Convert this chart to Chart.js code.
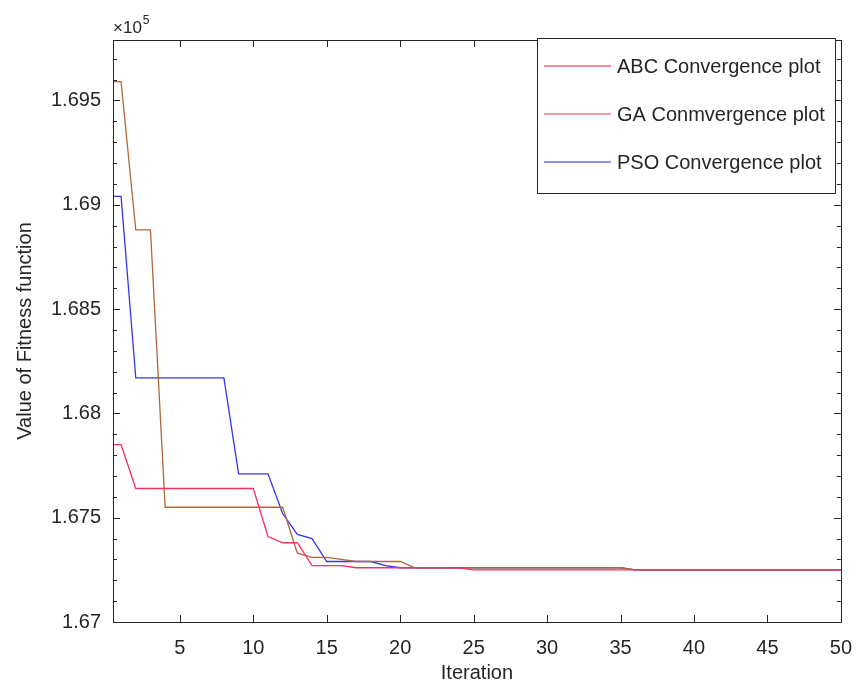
<!DOCTYPE html>
<html><head><meta charset="utf-8">
<script src="https://cdn.jsdelivr.net/npm/chart.js@4/dist/chart.umd.min.js"></script>
<style>html,body{margin:0;padding:0;background:#fff}#wrap{width:866px;height:691px}</style>
</head><body><div id="wrap"><canvas id="c" width="866" height="691"></canvas></div>
<script>
// ---- data (values in units of 10^5) ----
const iterations = [1,2,3,4,5,6,7,8,9,10,11,12,13,14,15,16,17,18,19,20,21,22,23,24,25,26,27,28,29,30,31,32,33,34,35,36,37,38,39,40,41,42,43,44,45,46,47,48,49,50];
const abcValues = [1.6785,1.6764,1.6764,1.6764,1.6764,1.6764,1.6764,1.6764,1.6764,1.6764,1.6741,1.6738,1.6738,1.6727,1.6727,1.6727,1.6726,1.6726,1.6726,1.6726,1.6726,1.6726,1.6726,1.6726,1.6725,1.6725,1.6725,1.6725,1.6725,1.6725,1.6725,1.6725,1.6725,1.6725,1.6725,1.6725,1.6725,1.6725,1.6725,1.6725,1.6725,1.6725,1.6725,1.6725,1.6725,1.6725,1.6725,1.6725,1.6725,1.6725];
const gaValues = [1.6959,1.6888,1.6888,1.6755,1.6755,1.6755,1.6755,1.6755,1.6755,1.6755,1.6755,1.6755,1.6733,1.6731,1.6731,1.6730,1.6729,1.6729,1.6729,1.6729,1.6726,1.6726,1.6726,1.6726,1.6726,1.6726,1.6726,1.6726,1.6726,1.6726,1.6726,1.6726,1.6726,1.6726,1.6726,1.6725,1.6725,1.6725,1.6725,1.6725,1.6725,1.6725,1.6725,1.6725,1.6725,1.6725,1.6725,1.6725,1.6725,1.6725];
const psoValues = [1.6904,1.6817,1.6817,1.6817,1.6817,1.6817,1.6817,1.6817,1.6771,1.6771,1.6771,1.6752,1.6742,1.6740,1.6729,1.6729,1.6729,1.6729,1.6727,1.6726,1.6726,1.6726,1.6726,1.6726,1.6726,1.6726,1.6726,1.6726,1.6726,1.6726,1.6726,1.6726,1.6726,1.6726,1.6726,1.6725,1.6725,1.6725,1.6725,1.6725,1.6725,1.6725,1.6725,1.6725,1.6725,1.6725,1.6725,1.6725,1.6725,1.6725];
const seriesNames = ['ABC Convergence plot','GA Conmvergence plot','PSO Convergence plot'];
const xTicks = [5,10,15,20,25,30,35,40,45,50];
const yTicks = [1.67,1.675,1.68,1.685,1.69,1.695];

// ---- styling ----
const X_MIN = 0.45, X_MAX = 50, Y_MIN = 1.67, Y_MAX = 1.6979;
const lineColors = ['#f5325f', '#b0683a', '#3434f2'];
const legendColors = ['#ff5c7c', '#f07c86', '#6a6af5'];
const FONT = '"Liberation Sans", Arial, sans-serif';
const TXT = '#262626';

function toPoints(vals){
  const pts = [{x: X_MIN, y: vals[0]}];
  iterations.forEach((it,i)=>pts.push({x: it, y: vals[i]}));
  return pts;
}

const framePlugin = {
  id: 'frame',
  afterDatasetsDraw(chart){
    const ctx = chart.ctx, a = chart.chartArea;
    const xs = chart.scales.x, ys = chart.scales.y;
    ctx.save();
    ctx.strokeStyle = TXT; ctx.lineWidth = 1;
    ctx.strokeRect(Math.round(a.left)+0.5, Math.round(a.top)+0.5, Math.round(a.right-a.left), Math.round(a.bottom-a.top));
    ctx.beginPath();
    xTicks.forEach(v=>{
      const px = Math.round(xs.getPixelForValue(v))+0.5;
      ctx.moveTo(px, a.bottom); ctx.lineTo(px, a.bottom-7);
      ctx.moveTo(px, a.top); ctx.lineTo(px, a.top+7);
    });
    for(let k=0;k<=27;k++){
      const v = Y_MIN + k*0.001;
      const py = Math.round(ys.getPixelForValue(v))+0.5;
      const len = (k%5===0)?7:4;
      ctx.moveTo(a.left, py); ctx.lineTo(a.left+len, py);
      ctx.moveTo(a.right, py); ctx.lineTo(a.right-len, py);
    }
    ctx.stroke();

    // exponent label
    ctx.fillStyle = TXT;
    ctx.textBaseline = 'alphabetic'; ctx.textAlign = 'left';
    ctx.font = '17px ' + FONT;
    ctx.fillText('\u00d710', a.left, a.top-7);
    const w = ctx.measureText('\u00d710').width;
    ctx.font = '12px ' + FONT;
    ctx.fillText('5', a.left + w + 1, a.top-16);

    // legend box
    const bx = 537.5, by = 38.5, bw = 298, bh = 155;
    ctx.fillStyle = '#ffffff';
    ctx.fillRect(bx, by, bw, bh);
    ctx.strokeStyle = TXT; ctx.lineWidth = 1;
    ctx.strokeRect(bx, by, bw, bh);
    ctx.font = '20px ' + FONT;
    ctx.textBaseline = 'middle';
    const rows = [66, 114, 162];
    seriesNames.forEach((name,i)=>{
      ctx.strokeStyle = legendColors[i]; ctx.lineWidth = 1.5;
      ctx.beginPath(); ctx.moveTo(544, rows[i]); ctx.lineTo(611, rows[i]); ctx.stroke();
      ctx.fillStyle = TXT;
      ctx.fillText(name, 617, rows[i]+1);
    });
    ctx.restore();
  }
};

new Chart(document.getElementById('c'), {
  type: 'line',
  data: {
    datasets: [
      {label: seriesNames[0], data: toPoints(abcValues), borderColor: lineColors[0]},
      {label: seriesNames[1], data: toPoints(gaValues), borderColor: lineColors[1]},
      {label: seriesNames[2], data: toPoints(psoValues), borderColor: lineColors[2]}
    ]
  },
  options: {
    responsive: false, animation: false, devicePixelRatio: 1,
    layout: {padding: {left: 0, right: 18, top: 40, bottom: 0}},
    elements: {point: {radius: 0}, line: {borderWidth: 1.3, tension: 0, fill: false}},
    plugins: {legend: {display: false}, tooltip: {enabled: false}},
    scales: {
      x: {
        type: 'linear', min: X_MIN, max: X_MAX,
        grid: {display: false, drawTicks: false},
        border: {display: false},
        afterBuildTicks: s => { s.ticks = xTicks.map(v=>({value: v})); },
        afterFit: s => { s.height = 69; },
        ticks: {padding: 14, color: TXT, font: {family: FONT, size: 20}, maxRotation: 0, autoSkip: false,
                callback: v => String(v)},
        title: {display: true, text: 'Iteration', color: TXT, font: {family: FONT, size: 20}, padding: {top: 0, bottom: 6}}
      },
      y: {
        type: 'linear', min: Y_MIN, max: Y_MAX,
        grid: {display: false, drawTicks: false},
        border: {display: false},
        afterBuildTicks: s => { s.ticks = yTicks.map(v=>({value: v})); },
        afterFit: s => { s.width = 113; },
        ticks: {padding: 12, color: TXT, font: {family: FONT, size: 20}, autoSkip: false,
                callback: v => String(parseFloat(Number(v).toFixed(3)))},
        title: {display: true, text: 'Value of Fitness function', color: TXT, font: {family: FONT, size: 20}, padding: {top: 13, bottom: 0}}
      }
    }
  },
  plugins: [framePlugin]
});
</script></body></html>
